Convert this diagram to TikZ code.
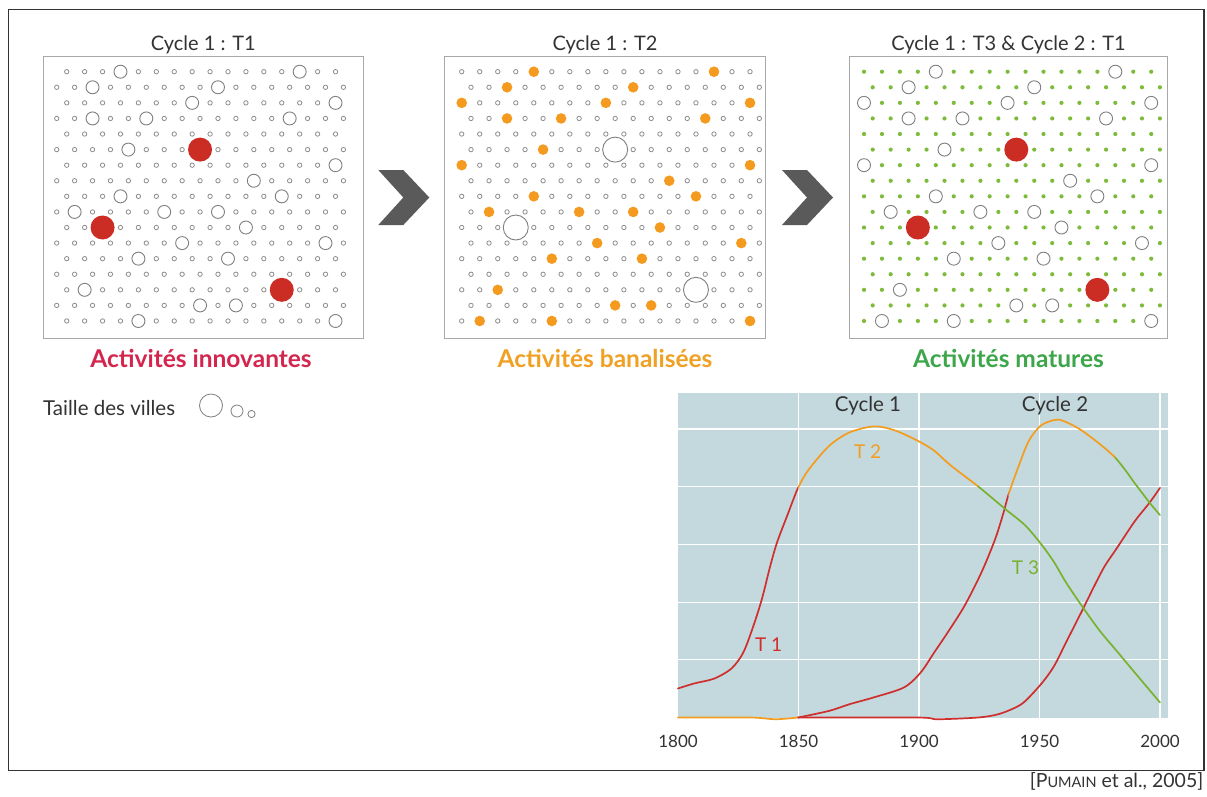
\documentclass[tikz,border=0pt]{standalone}
\usepackage{fontspec}
\setmainfont{Lato}
\definecolor{framegray}{HTML}{333333}
\definecolor{boxgray}{HTML}{A8A8A8}
\definecolor{dotgray}{HTML}{8E8E8E}
\definecolor{citygray}{HTML}{7F7F7F}
\definecolor{cityred}{HTML}{CB2C24}
\definecolor{cityorange}{HTML}{F39A1F}
\definecolor{citygreen}{HTML}{7DBB3B}
\definecolor{txtred}{HTML}{D4254E}
\definecolor{txtorange}{HTML}{F0A023}
\definecolor{txtgreen}{HTML}{3DA64A}
\definecolor{chartbg}{HTML}{C4D9DE}
\definecolor{curvered}{HTML}{CE2E2C}
\definecolor{curveorange}{HTML}{F39C1E}
\definecolor{curvegreen}{HTML}{78B22E}
\definecolor{chevgray}{HTML}{5A5A5A}
\definecolor{textgray}{HTML}{333333}
\newcommand\dotrows[7]{%
  \foreach \r in {0,...,16}{%
    \pgfmathsetmacro\cy{71.7+15.58*\r}%
    \ifodd\r\relax
      \foreach \c in {0,...,#6}{\path[#7] ({#2+#3*\c},\cy) circle;}%
    \else
      \foreach \c in {#4,...,#5}{\path[#7] ({#1+#3*\c},\cy) circle;}%
    \fi
  }}
\newcommand\city[6]{%
  \pgfmathsetmacro\cy{71.7+15.58*#4}%
  \ifodd#4\relax \pgfmathsetmacro\cx{#2+#3*#5}\else \pgfmathsetmacro\cx{#1+#3*#5}\fi
  \path[#6] (\cx,\cy) circle;}
\def\listX{0/4,0/14,1/2,1/9,2/8,2/16,3/2,3/5,3/13,5/4,6/16,7/11,8/4,8/13,9/1,9/6,9/9,10/11,11/7,11/15,12/5,12/10,14/2,15/8,15/10,16/5,16/16}
\def\listY{5/8,10/3,14/13}
\def\listXextra{2/0,6/0,16/1}
\newcommand\curveA{plot[smooth,tension=0.5] coordinates {(0,0.503) (6.7,0.59) (15.1,0.676) (22.2,0.85) (27.1,1.127) (31.3,1.59) (34.8,2.052) (38.3,2.63) (41.1,3.035) (45.3,3.497) (49.9,3.988) (54.4,4.306) (62.8,4.711) (71.2,4.942) (81.1,5.046) (88.1,5.0) (93.7,4.913) (100.7,4.769) (106.3,4.624) (113.3,4.364) (124.5,4.006) (135.8,3.613) (144.2,3.324) (151.2,2.977) (156.1,2.688) (161,2.341) (168,1.908) (175,1.503) (182,1.155) (189.1,0.80) (200,0.26)}}
\newcommand\curveB{plot[smooth,tension=0.5] coordinates {(49.9,0) (62.8,0.116) (71.2,0.231) (81.1,0.347) (93.7,0.52) (100.7,0.78) (106.3,1.127) (111.9,1.474) (118.9,1.936) (125.9,2.514) (131.6,3.092) (135.1,3.555) (137.2,3.873) (141.4,4.364) (145.6,4.798) (150.5,5.058) (156.1,5.156) (159.6,5.145) (166.6,5.0) (175,4.74) (181.3,4.509) (186.3,4.249) (189,4.09) (195.9,3.712) (200,3.509)}}
\newcommand\curveC{plot[smooth,tension=0.5] coordinates {(49.9,0) (99.3,0) (107.7,-0.03) (124.5,0) (133,0.058) (140,0.173) (144.2,0.289) (151.2,0.607) (156.1,0.896) (161,1.301) (168,1.879) (172.5,2.26) (177,2.62) (182,2.93) (189.5,3.40) (195.6,3.72) (200,3.98)}}
\begin{document}
\begin{tikzpicture}[x=1pt,y=-1pt,
  panelbox/.style={draw=boxgray, line width=0.9pt},
  smalldot/.style={draw=dotgray, line width=0.8pt, radius=2.2pt},
  greendot/.style={fill=citygreen, radius=2.1pt},
  medcity/.style={draw=citygray, fill=white, line width=0.9pt, radius=6.5pt},
  bigcity/.style={draw=citygray, fill=white, line width=0.9pt, radius=12.5pt},
  redcity/.style={fill=cityred, radius=12pt},
  orcity/.style={fill=cityorange, radius=5.3pt},
  chevron/.style={fill=chevgray},
  titletext/.style={font=\fontsize{20}{24}\selectfont, text=textgray},
  subtext/.style={font=\fontsize{24.5}{28}\selectfont\bfseries},
  charttext/.style={font=\fontsize{17}{20}\selectfont, text=textgray},
  bigcharttext/.style={font=\fontsize{20.5}{24}\selectfont, text=textgray},
  gridline/.style={draw=white, line width=1.1pt},
  curve/.style={line width=1.7pt, line join=round, line cap=round}]
\useasboundingbox (0,0) rectangle (1207,796);
\fill[white] (0,0) rectangle (1207,796);
\draw[line width=1.6pt, draw=framegray] (8.5,9.5) rectangle (1204,770.5);
% panel boxes
\draw[panelbox] (43.3,56.7) rectangle (363.3,338.3);
\draw[panelbox] (444.3,56.7) rectangle (765.7,338.3);
\draw[panelbox] (849.3,56.7) rectangle (1167.7,338.3);
% panel 1
\dotrows{48.8}{56.7}{17.92}{1}{16}{16}{smalldot}
\foreach \r/\c in \listX {\city{48.8}{56.7}{17.92}{\r}{\c}{medcity}}
\foreach \r/\c in \listY {\city{48.8}{56.7}{17.92}{\r}{\c}{redcity}}
% panel 2
\dotrows{461.7}{471}{18.02}{0}{16}{16}{smalldot}
\foreach \r/\c in \listX {\city{461.7}{471}{18.02}{\r}{\c}{orcity}}
\foreach \r/\c in \listXextra {\city{461.7}{471}{18.02}{\r}{\c}{orcity}}
\foreach \r/\c in \listY {\city{461.7}{471}{18.02}{\r}{\c}{bigcity}}
% panel 3
\dotrows{864}{872.7}{17.95}{0}{16}{16}{greendot}
\foreach \r/\c in \listX {\city{864}{872.7}{17.95}{\r}{\c}{medcity}}
\foreach \r/\c in \listXextra {\city{864}{872.7}{17.95}{\r}{\c}{medcity}}
\foreach \r/\c in \listY {\city{864}{872.7}{17.95}{\r}{\c}{redcity}}
% chevrons
\fill[chevron] (378.3,170) -- (403.3,170) -- (429.3,197.5) -- (403.3,225) -- (378.3,225) -- (403.3,197.5) -- cycle;
\fill[chevron] (782,170) -- (807,170) -- (833,197.5) -- (807,225) -- (782,225) -- (807,197.5) -- cycle;
% titles
\node[titletext] (t1) at (203.3,44.5) {Cycle 1 : T1};
\node[titletext] (t2) at (605,44.5) {Cycle 1 : T2};
\node[titletext] (t3) at (1008.5,44.5) {Cycle 1 : T3 \& Cycle 2 : T1};
\node[subtext, text=txtred] (s1) at (201,358) {Activités innovantes};
\node[subtext, text=txtorange] (s2) at (605,358) {Activités banalisées};
\node[subtext, text=txtgreen] (s3) at (1008.5,358) {Activités matures};
% legend
\node[bigcharttext, anchor=west, inner sep=0pt] (leg) at (43,408.5) {Taille des villes};
\draw[citygray, line width=0.8pt] (211,405.5) circle[radius=11.5pt];
\draw[citygray, line width=0.8pt] (237,411) circle[radius=6pt];
\draw[citygray, line width=0.8pt] (251.5,414) circle[radius=3.6pt];
% chart
\begin{scope}[shift={(678,717.5)}, x=2.41pt, y=57.7pt]
\fill[chartbg] (0,0) rectangle (203.4,5.62);
\foreach \v in {1,...,5} \draw[gridline] (0,\v) -- (203.4,\v);
\foreach \t in {50,100,150,200} \draw[gridline] (\t,0) -- (\t,5.62);
\draw[curve, curveorange] plot[smooth,tension=0.5] coordinates {(0,0) (30,0) (40.4,-0.03) (49.9,0)};
\draw[curve, curvered] \curveC;
\begin{scope}\clip (-5,-1) rectangle (137.2,7);
\draw[curve, curvered] \curveB;\end{scope}
\begin{scope}\clip (137.2,-1) rectangle (181.3,7);
\draw[curve, curveorange] \curveB;\end{scope}
\begin{scope}\clip (181.3,-1) rectangle (210,7);
\draw[curve, curvegreen] \curveB;\end{scope}
\begin{scope}\clip (-5,-1) rectangle (49.9,7);
\draw[curve, curvered] \curveA;\end{scope}
\begin{scope}\clip (49.9,-1) rectangle (124.5,7);
\draw[curve, curveorange] \curveA;\end{scope}
\begin{scope}\clip (124.5,-1) rectangle (210,7);
\draw[curve, curvegreen] \curveA;\end{scope}
\end{scope}
\node[bigcharttext] (c1) at (868,406) {Cycle 1};
\node[bigcharttext] (c2) at (1055,406) {Cycle 2};
\node[bigcharttext, font=\fontsize{19}{22}\selectfont, text=curvered] (lt1) at (768.6,645) {T 1};
\node[bigcharttext, font=\fontsize{19}{22}\selectfont, text=curveorange] (lt2) at (867.6,451.5) {T 2};
\node[bigcharttext, font=\fontsize{19}{22}\selectfont, text=curvegreen] (lt3) at (1025.5,567.4) {T 3};
\node[charttext] (y1800) at (678,741) {1800};
\node[charttext] (y1850) at (798.5,741) {1850};
\node[charttext] (y1900) at (919,741) {1900};
\node[charttext] (y1950) at (1039.5,741) {1950};
\node[charttext] (y2000) at (1160,741) {2000};
% citation
\node[charttext, font=\fontsize{19.5}{22}\selectfont, anchor=east, inner sep=0pt] (cite) at (1203.5,781) {[P{\fontsize{14.5}{16}\selectfont UMAIN} et al., 2005]};
\end{tikzpicture}
\end{document}
